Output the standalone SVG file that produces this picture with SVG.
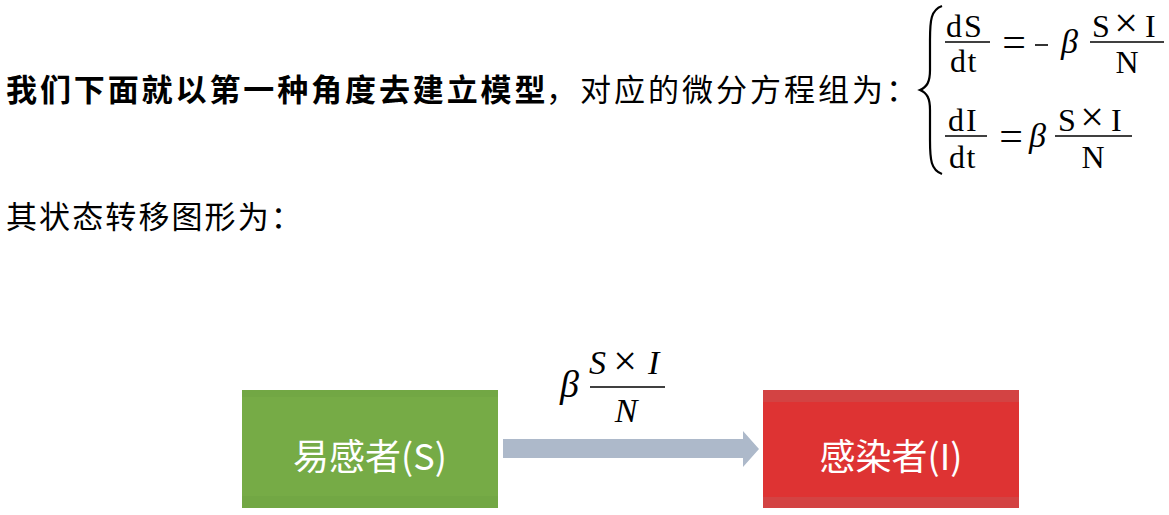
<svg xmlns="http://www.w3.org/2000/svg" width="1169" height="515" viewBox="0 0 1169 515">
<style>
.cjk{font-family:"Noto Sans CJK SC","Noto Sans",sans-serif;fill:#000;font-size:31px}
.b{font-weight:bold}
.m{font-family:"Liberation Serif","DejaVu Serif",serif;fill:#000;font-size:32px}
.op{font-family:"Liberation Serif","DejaVu Serif",serif;fill:#000;font-size:42px;text-anchor:middle}
.mi{font-family:"Liberation Serif","DejaVu Serif",serif;font-style:italic;fill:#000}
.bar{stroke:#000;stroke-width:1.6}
.lbl{font-family:"Noto Sans CJK SC","Noto Sans",sans-serif;fill:#fff;font-size:36px;text-anchor:middle}
</style>
<rect width="1169" height="515" fill="#fff"/>
<g id="text-lines">
<text class="cjk b" x="6" y="101" letter-spacing="2.9">我们下面就以第一种角度去建立模型</text>
<text class="cjk" x="546" y="101">，</text>
<text class="cjk" x="580" y="101" letter-spacing="3">对应的微分方程组为：</text>
<text class="cjk" x="6" y="228" letter-spacing="2.1">其状态转移图形为：</text>
</g>
<g id="equations">
<path d="M942 6 C931 10 930 20 930 40 L930 70 C930 82 927 87 920 90 C927 93 930 98 930 110 L930 140 C930 160 931 170 942 174" fill="none" stroke="#000" stroke-width="2.2"/>
<text class="m" x="946" y="37" letter-spacing="2">dS</text>
<line class="bar" x1="945" y1="42" x2="990" y2="42"/>
<text class="m" x="950" y="72" letter-spacing="1.5">dt</text>
<text class="op" x="1014" y="56">=</text>
<line x1="1035" y1="45" x2="1048" y2="45" stroke="#000" stroke-width="1.6"/>
<text class="mi" x="1061" y="53" font-size="34">β</text>
<text class="m" x="1092" y="37">S</text>
<text class="op" x="1126" y="37" font-size="30">×</text>
<text class="m" x="1145" y="37">I</text>
<line class="bar" x1="1090" y1="42" x2="1164" y2="42"/>
<text class="m" x="1127" y="73" text-anchor="middle">N</text>

<text class="m" x="948" y="131" letter-spacing="2">dI</text>
<line class="bar" x1="945" y1="136" x2="987" y2="136"/>
<text class="m" x="949" y="168" letter-spacing="1.5">dt</text>
<text class="op" x="1011" y="150">=</text>
<text class="mi" x="1029" y="147" font-size="34">β</text>
<text class="m" x="1058" y="131">S</text>
<text class="op" x="1092" y="131" font-size="30">×</text>
<text class="m" x="1111" y="131">I</text>
<line class="bar" x1="1055" y1="136" x2="1132" y2="136"/>
<text class="m" x="1093" y="168" text-anchor="middle">N</text>
</g>
<g id="node-S">
<rect x="242" y="390" width="256" height="118" fill="#76AB46"/>
<rect x="242" y="390" width="256" height="7" fill="#72A744"/>
<rect x="242" y="496" width="256" height="12" fill="#72A744"/>
<text class="lbl" x="370" y="470">易感者(S)</text>
</g>
<g id="node-I">
<rect x="763" y="390" width="256" height="118" fill="#DE3333"/>
<rect x="763" y="390" width="256" height="12" fill="#D34343"/>
<rect x="763" y="497" width="256" height="11" fill="#D34343"/>
<text class="lbl" x="891" y="470">感染者(I)</text>
</g>
<g id="connectors">
<polygon points="503,439 743,439 743,431 759,449 743,467 743,458 503,458" fill="#ADB9CA"/>
<g id="rate-label">
<text class="mi" x="560" y="397" font-size="38">β</text>
<text class="mi" x="589" y="374" font-size="34">S</text>
<text class="op" x="625" y="375" font-size="32">×</text>
<text class="mi" x="648" y="374" font-size="34">I</text>
<line class="bar" x1="590" y1="387" x2="665" y2="387"/>
<text class="mi" x="626" y="422" font-size="34" text-anchor="middle">N</text>
</g>
</g>
</svg>
